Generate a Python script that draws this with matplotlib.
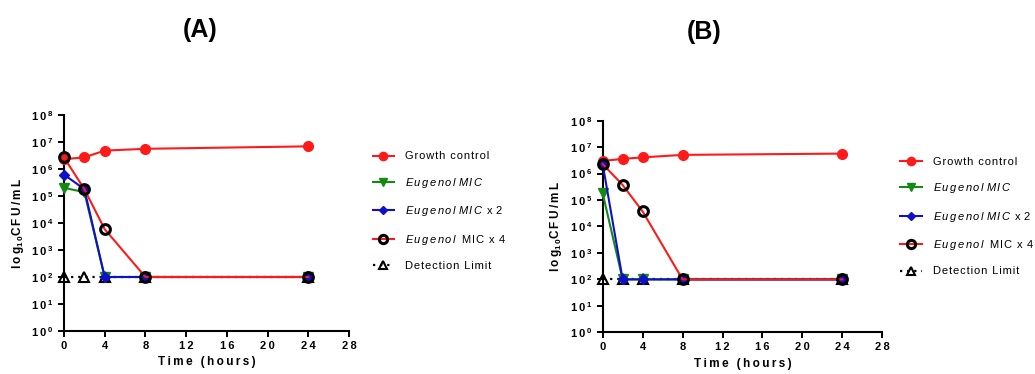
import matplotlib
matplotlib.use("Agg")
import matplotlib.pyplot as plt
from matplotlib.ticker import FixedLocator, FuncFormatter

plt.rcParams["font.family"] = ["Liberation Sans", "DejaVu Sans"]
plt.rcParams["mathtext.fontset"] = "custom"
plt.rcParams["mathtext.rm"] = "Liberation Sans"
plt.rcParams["mathtext.it"] = "Liberation Sans:italic"
plt.rcParams["mathtext.bf"] = "Liberation Sans:bold"
plt.rcParams["mathtext.default"] = "regular"

TIME = [0, 2, 4, 8, 24]
LIMIT = [100, 100, 100, 100, 100]

# panel A
A_GROWTH = [2.3e6, 2.7e6, 4.8e6, 5.6e6, 6.9e6]
A_MIC = [2.0e5, 1.4e5, 100, 100, 100]
A_MIC2 = [6.2e5, 1.8e5, 100, 100, 100]
A_MIC4 = [2.7e6, 1.8e5, 5.9e3, 100, 100]

# panel B
B_GROWTH = [3.0e6, 3.6e6, 4.1e6, 5.1e6, 5.7e6]
B_MIC = [1.8e5, 100, 100, 100, 100]
B_MIC2 = [2.3e6, 100, 100, 100, 100]
B_MIC4 = [2.3e6, 3.7e5, 3.7e4, 100, 100]

X_TICKS = [0, 4, 8, 12, 16, 20, 24, 28]
Y_TICKS = [1e0, 1e1, 1e2, 1e3, 1e4, 1e5, 1e6, 1e7, 1e8]

TS = "\u2009"  # thin space, mimics the wide letter spacing of the original
HS = "\u200a"  # hair space, for the legend


def spaced(s, gap=TS):
    return gap.join(s)


def it_spaced(s):
    # italic word(s) in mathtext with small gaps between the letters
    words = [r"\,".join(w) for w in s.split(" ")]
    return r"$\it{" + r"\ ".join(words) + "}$"


LABELS = [
    spaced("Growth control", HS),
    it_spaced("Eugenol MIC"),
    it_spaced("Eugenol MIC") + TS + TS + "x" + HS + " " + "2",
    it_spaced("Eugenol") + "  " + spaced("MIC x 4", HS),
    spaced("Detection Limit", HS),
]


def decade(v, pos):
    e = 0
    while 10 ** e < v * 0.999:
        e += 1
    return "1" + TS + "0" + TS + r"$^{\mathbf{" + str(e) + "}}$"


def hours(v, pos):
    return spaced(str(int(v)))


def draw_panel(ax, growth, mic, mic2, mic4, legend_xy):
    h_lim, = ax.plot(TIME, LIMIT, color="black", ls=(0, (1, 2.2)), lw=1.6,
                     marker="^", ms=6.5, mfc="none", mec="black", mew=1.5, zorder=2)
    h_g, = ax.plot(TIME, growth, color="#ff1a1a", lw=1.5, marker="o", ms=7,
                   mfc="#ff1a1a", mec="#ff1a1a", zorder=3)
    h_m, = ax.plot(TIME, mic, color="#148a14", lw=1.5, marker="v", ms=6.5,
                   mfc="#148a14", mec="#148a14", zorder=4)
    h_m2, = ax.plot(TIME, mic2, color="#1010c8", lw=1.5, marker="D", ms=5,
                    mfc="#1010c8", mec="#1010c8", zorder=5)
    h_m4, = ax.plot(TIME, mic4, color="#ff1a1a", lw=1.5, marker="o", ms=7,
                    mfc="none", mec="black", mew=2.2, zorder=6)

    ax.set_yscale("log")
    ax.set_xlim(0, 28)
    ax.set_ylim(1, 1e8)
    ax.xaxis.set_major_locator(FixedLocator(X_TICKS))
    ax.xaxis.set_major_formatter(FuncFormatter(hours))
    ax.yaxis.set_major_locator(FixedLocator(Y_TICKS))
    ax.yaxis.set_major_formatter(FuncFormatter(decade))
    ax.yaxis.set_minor_locator(FixedLocator([]))
    for side in ("top", "right"):
        ax.spines[side].set_visible(False)
    for side in ("left", "bottom"):
        ax.spines[side].set_linewidth(1.5)
    ax.tick_params(length=4, width=1.4, labelsize=8, pad=3)
    for lbl in ax.get_xticklabels() + ax.get_yticklabels():
        lbl.set_fontweight("bold")
    ax.set_xlabel(spaced("Time (hours)"), fontsize=8.5, fontweight="bold", labelpad=4)
    ax.set_ylabel(spaced("log") + r"$_{\mathbf{1\,0}}$" + spaced("CFU/mL"),
                  fontsize=8.5, fontweight="bold", labelpad=4)
    for h in (h_lim, h_g, h_m, h_m2, h_m4):
        h.set_clip_on(False)

    ax.legend([h_g, h_m, h_m2, h_m4, h_lim], LABELS, loc="upper left",
              bbox_to_anchor=legend_xy, bbox_transform=ax.figure.transFigure,
              frameon=False, fontsize=8, handlelength=1.9, handletextpad=1.0,
              labelspacing=1.3, borderpad=0, borderaxespad=0, markerscale=0.85)


fig = plt.figure(figsize=(10.35, 3.74), dpi=100)
ax_a = fig.add_axes([0.0618, 0.115, 0.2754, 0.5775])
ax_b = fig.add_axes([0.5823, 0.1115, 0.2702, 0.5658])

draw_panel(ax_a, A_GROWTH, A_MIC, A_MIC2, A_MIC4, (0.360, 0.595))
draw_panel(ax_b, B_GROWTH, B_MIC, B_MIC2, B_MIC4, (0.870, 0.581))

fig.text(0.193, 0.92, "(A)", ha="center", va="center", fontsize=18, fontweight="bold")
fig.text(0.680, 0.914, "(B)", ha="center", va="center", fontsize=18, fontweight="bold")

fig.savefig("out.png", dpi=100)
